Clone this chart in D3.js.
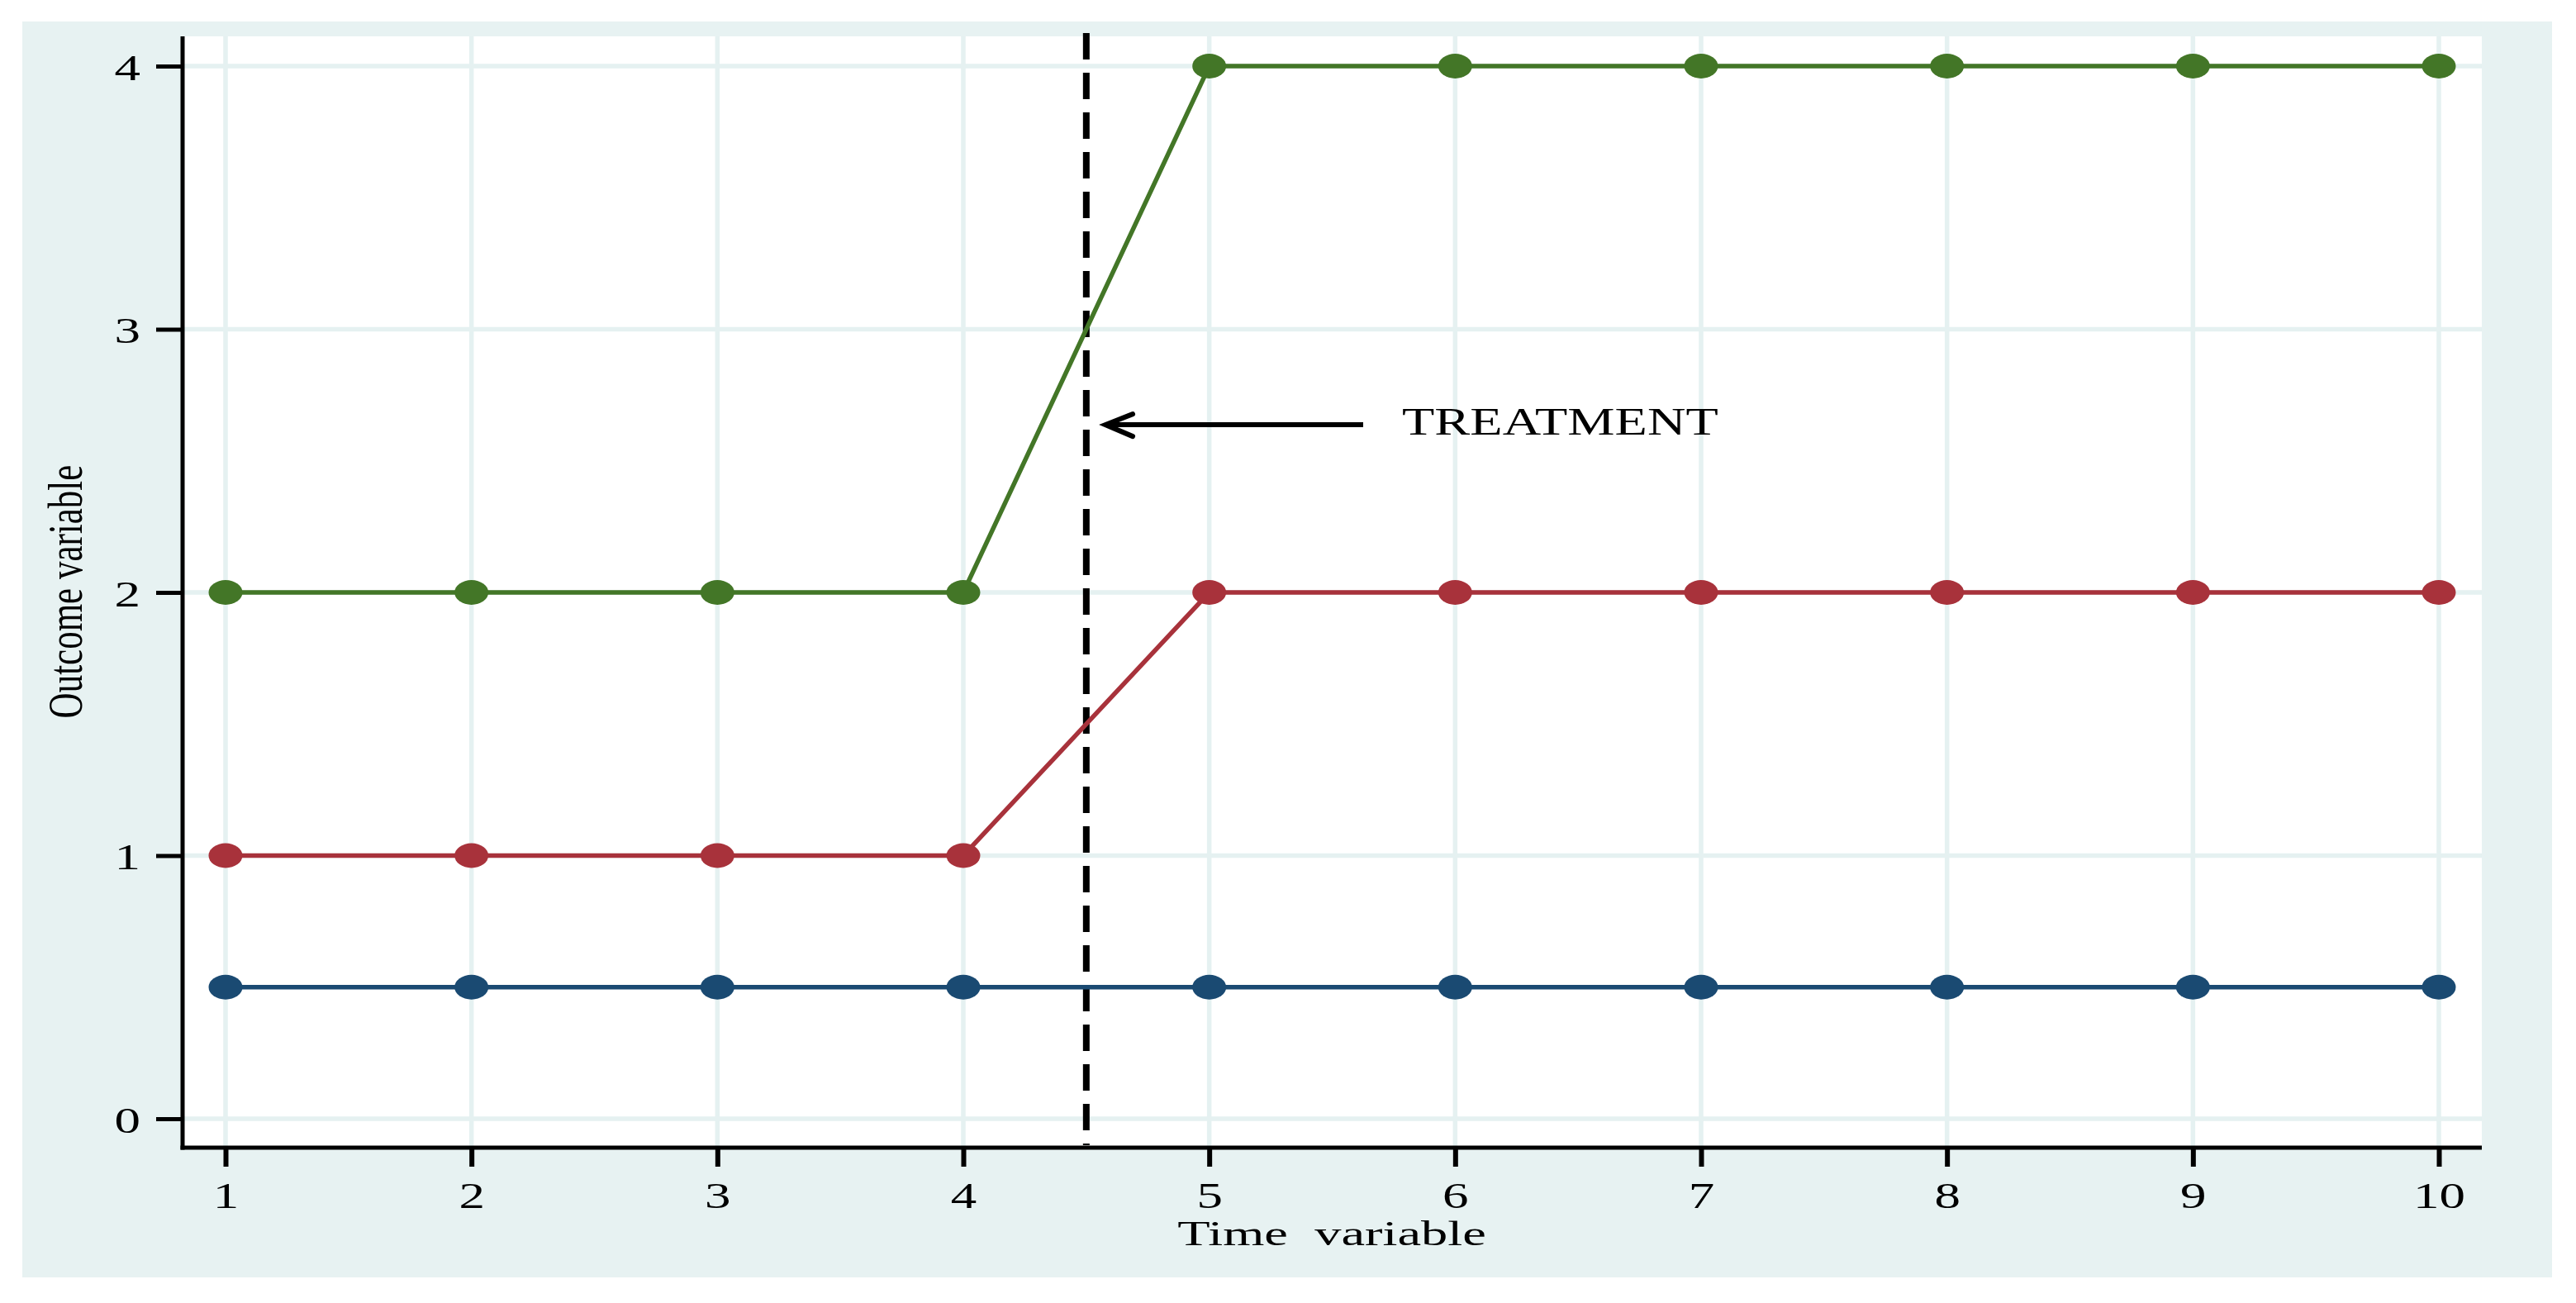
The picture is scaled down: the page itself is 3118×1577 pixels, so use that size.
<!DOCTYPE html>
<html>
<head>
<meta charset="utf-8">
<script src="https://cdn.jsdelivr.net/npm/d3@7"></script>
<style>
  body { margin: 0; background: #fff; }
  text { font-family: "Liberation Serif", "Times New Roman", serif; fill: #000; }
</style>
</head>
<body>
<div id="chart"></div>
<script>
// Data
var timeValues = [1, 2, 3, 4, 5, 6, 7, 8, 9, 10];
var blueSeries = [0.5, 0.5, 0.5, 0.5, 0.5, 0.5, 0.5, 0.5, 0.5, 0.5];
var redSeries = [1, 1, 1, 1, 2, 2, 2, 2, 2, 2];
var greenSeries = [2, 2, 2, 2, 4, 4, 4, 4, 4, 4];
var xTicks = [1, 2, 3, 4, 5, 6, 7, 8, 9, 10];
var yTicks = [0, 1, 2, 3, 4];
var treatmentTime = 4.5;

var svgWidth = 3118;
var svgHeight = 1577;
// the original picture is stretched horizontally
var stretch = 1.4;

var plot = { left: 221, right: 3004, top: 44, bottom: 1389 };

var svg = d3.select("#chart")
  .append("svg")
  .attr("width", svgWidth)
  .attr("height", svgHeight);

// outer light background
svg.append("rect")
  .attr("x", 27).attr("y", 26)
  .attr("width", 3089 - 27).attr("height", 1546 - 26)
  .attr("fill", "#e7f2f2");

// plot region
svg.append("rect")
  .attr("x", plot.left).attr("y", plot.top)
  .attr("width", plot.right - plot.left).attr("height", plot.bottom - plot.top)
  .attr("fill", "#fff");

// scales
var x = d3.scaleLinear().domain([1, 10]).range([273, 2952]);
var y = d3.scaleLinear().domain([0, 4]).range([1354, 80]);

// grid
var grid = svg.append("g").attr("stroke", "#e5f1f1").attr("stroke-width", 5.5);
grid.selectAll(".gx").data(xTicks).enter().append("line")
  .attr("x1", d => x(d)).attr("x2", d => x(d))
  .attr("y1", plot.top).attr("y2", plot.bottom);
grid.selectAll(".gy").data(yTicks).enter().append("line")
  .attr("x1", plot.left).attr("x2", plot.right)
  .attr("y1", d => y(d)).attr("y2", d => y(d));

// axes
var bottomAxis = d3.axisBottom(x).tickValues(xTicks).tickSize(23).tickFormat(d3.format("d"));
var leftAxis = d3.axisLeft(y).tickValues(yTicks).tickSize(32).tickFormat(d3.format("d"));

var gx = svg.append("g")
  .attr("transform", `translate(0, ${plot.bottom})`)
  .call(bottomAxis);
gx.select(".domain").remove();
gx.selectAll(".tick line").attr("stroke", "#000").attr("stroke-width", 6);
gx.selectAll(".tick text").remove();
gx.selectAll(".tick").append("text")
  .attr("transform", `translate(0, 73) scale(${stretch}, 1)`)
  .attr("text-anchor", "middle")
  .style("font-size", "45px")
  .text(d => d);

var gy = svg.append("g")
  .attr("transform", `translate(${plot.left}, 0)`)
  .call(leftAxis);
gy.select(".domain").remove();
gy.selectAll(".tick line").attr("stroke", "#000").attr("stroke-width", 5);
gy.selectAll(".tick text").remove();
gy.selectAll(".tick").append("text")
  .attr("transform", `translate(-51, 16) scale(${stretch}, 1)`)
  .attr("text-anchor", "end")
  .style("font-size", "45px")
  .text(d => d);

// axis lines
svg.append("line")
  .attr("x1", plot.left).attr("x2", plot.left)
  .attr("y1", plot.top).attr("y2", plot.bottom + 2.5)
  .attr("stroke", "#000").attr("stroke-width", 5);
svg.append("line")
  .attr("x1", plot.left - 2.5).attr("x2", plot.right)
  .attr("y1", plot.bottom).attr("y2", plot.bottom)
  .attr("stroke", "#000").attr("stroke-width", 5);

// axis titles
svg.append("text")
  .attr("transform", `translate(1612, 1507) scale(1.5, 1)`)
  .attr("text-anchor", "middle")
  .style("font-size", "43px")
  .style("white-space", "pre")
  .text("Time  variable");

svg.append("text")
  .attr("transform", `translate(99, 716) scale(${stretch}, 1) rotate(-90)`)
  .attr("text-anchor", "middle")
  .style("font-size", "43px")
  .text("Outcome variable");

// treatment line
svg.append("line")
  .attr("x1", x(treatmentTime)).attr("x2", x(treatmentTime))
  .attr("y1", plot.top - 4).attr("y2", plot.bottom - 3)
  .attr("stroke", "#000").attr("stroke-width", 8)
  .attr("stroke-dasharray", "32 16");

// arrow + label
var arrowTip = { t: 4.578, v: 2.637 };
var arrowTail = { t: 5.626, v: 2.637 };
var ag = svg.append("g").attr("stroke", "#000").attr("stroke-width", 6)
  .attr("fill", "none").attr("stroke-linecap", "round");
ag.append("line")
  .attr("x1", x(arrowTip.t)).attr("y1", y(arrowTip.v))
  .attr("x2", x(arrowTail.t)).attr("y2", y(arrowTail.v))
  .attr("stroke-linecap", "butt");
ag.append("path")
  .attr("d", `M${x(arrowTip.t) + 33},${y(arrowTip.v) - 13} L${x(arrowTip.t)},${y(arrowTip.v)} L${x(arrowTip.t) + 33},${y(arrowTip.v) + 14}`);

svg.append("text")
  .attr("transform", `translate(${x(5.784)}, ${y(2.6)}) scale(1.4, 1)`)
  .style("font-size", "46px")
  .text("TREATMENT");

// series
var series = [
  { values: blueSeries, color: "#1a4a72" },
  { values: redSeries, color: "#a8323b" },
  { values: greenSeries, color: "#437627" }
];

var line = d3.line()
  .x((d, i) => x(timeValues[i]))
  .y(d => y(d));

series.forEach(function(s) {
  svg.append("path")
    .datum(s.values)
    .attr("d", line)
    .attr("fill", "none")
    .attr("stroke", s.color)
    .attr("stroke-width", 5.5);
  svg.append("g").selectAll("ellipse")
    .data(s.values)
    .enter().append("ellipse")
    .attr("cx", (d, i) => x(timeValues[i]))
    .attr("cy", d => y(d))
    .attr("rx", 20.5)
    .attr("ry", 15)
    .attr("fill", s.color);
});
</script>
</body>
</html>
